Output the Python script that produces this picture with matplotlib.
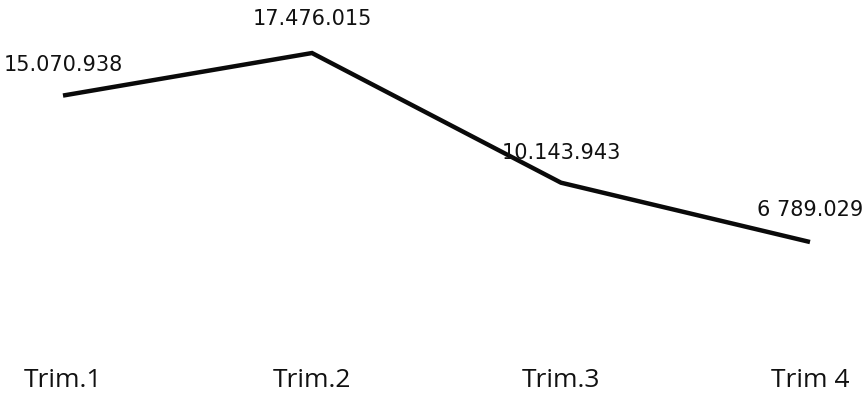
import matplotlib
matplotlib.use("Agg")
import matplotlib.pyplot as plt

categories = ["Trim.1", "Trim.2", "Trim.3", "Trim 4"]
values = [15070938, 17476015, 10143943, 6789029]
value_labels = ["15.070.938", "17.476.015", "10.143.943", "6 789.029"]

fig = plt.figure(figsize=(8.67, 4.05), dpi=100)
ax = fig.add_axes([0, 0.106, 1, 0.894])
x = list(range(len(categories)))
ax.plot(x, values, color="#0a0a0a", linewidth=3.2, solid_capstyle="butt", solid_joinstyle="miter")

ax.set_xlim(-0.253, 3.229)
ax.set_ylim(0, 20.475e6)

offsets = [31, 34, 30, 32]
for xi, v, lab, off in zip(x, values, value_labels, offsets):
    ax.annotate(lab, (xi, v), xytext=(0, off), textcoords="offset pixels",
                ha="center", va="center", fontsize=15, family="DejaVu Sans",
                color="#111111")

ax.set_xticks(x)
ax.set_xticklabels(categories, fontsize=19, family="Open Sans", color="#111111")
ax.tick_params(axis="x", length=0, pad=4)
ax.set_yticks([])
for s in ax.spines.values():
    s.set_visible(False)

fig.savefig("out.png", dpi=100, facecolor="white")
